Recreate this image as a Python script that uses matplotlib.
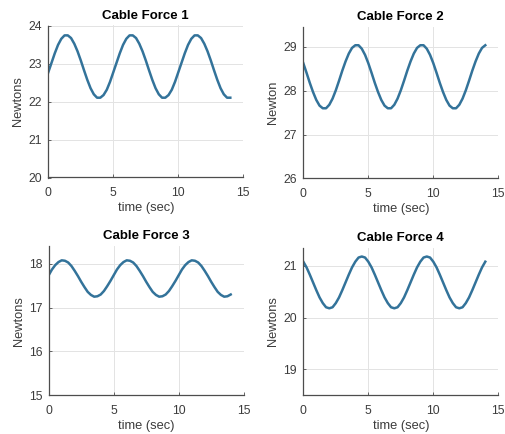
import numpy as np
import matplotlib
matplotlib.use("Agg")
import matplotlib.pyplot as plt

plt.rcParams['font.family'] = ['Liberation Sans', 'DejaVu Sans']

# time axis, 0..14 s every 0.25 s
time_sec = [i * 0.25 for i in range(57)]

# values (one 5 s period, 20 samples, repeated)
cycle_1 = [22.77, 23.02, 23.27, 23.49, 23.65, 23.74, 23.74, 23.67, 23.52, 23.32,
           23.08, 22.82, 22.57, 22.35, 22.19, 22.10, 22.10, 22.17, 22.31, 22.52]
cycle_2 = [28.63, 28.41, 28.18, 27.97, 27.79, 27.66, 27.60, 27.60, 27.68, 27.82,
           28.01, 28.23, 28.46, 28.67, 28.85, 28.98, 29.04, 29.04, 28.96, 28.82]
cycle_3 = [17.74, 17.87, 17.97, 18.04, 18.08, 18.07, 18.03, 17.95, 17.84, 17.72,
           17.59, 17.47, 17.36, 17.29, 17.25, 17.26, 17.30, 17.38, 17.49, 17.61]
cycle_4 = [21.08, 20.97, 20.83, 20.68, 20.53, 20.39, 20.28, 20.20, 20.18, 20.20,
           20.28, 20.39, 20.53, 20.68, 20.83, 20.97, 21.08, 21.16, 21.18, 21.16]

force_1 = (cycle_1 * 3)[:57]
force_2 = (cycle_2 * 3)[:57]
force_3 = (cycle_3 * 3)[:57]
force_4 = (cycle_4 * 3)[:57]

titles = ['Cable Force 1', 'Cable Force 2', 'Cable Force 3', 'Cable Force 4']
ylabels = ['Newtons', 'Newton', 'Newtons', 'Newtons']
ylims = [(20, 24), (26, 29.45), (15, 18.4), (18.5, 21.35)]
yticks = [[20, 21, 22, 23, 24], [26, 27, 28, 29], [15, 16, 17, 18], [19, 20, 21]]
xticks = [0, 5, 10, 15]

W, H = 505, 434
# axes boxes in pixels: left, right, top, bottom
boxes = [(48.3, 243.3, 25.5, 177.5),
         (303.3, 498.3, 27.3, 178.3),
         (48.7, 243.7, 246.3, 395.3),
         (303.3, 498.3, 247.7, 395.3)]

line_color = '#33739a'
text_color = '#3c3c3c'

fig = plt.figure(figsize=(W / 100, H / 100), dpi=100)

for k, series in enumerate([force_1, force_2, force_3, force_4]):
    l, r, t, b = boxes[k]
    ax = fig.add_axes([l / W, 1 - b / H, (r - l) / W, (b - t) / H])
    ax.plot(time_sec, series, color=line_color, linewidth=1.8)
    ax.set_xlim(0, 15)
    ax.set_ylim(*ylims[k])
    ax.set_xticks(xticks)
    ax.set_yticks(yticks[k])
    ax.grid(True, color='#e3e3e3', linewidth=0.7)
    ax.set_axisbelow(True)
    for side in ['top', 'right']:
        ax.spines[side].set_visible(False)
    for side in ['left', 'bottom']:
        ax.spines[side].set_color('#4d4d4d')
        ax.spines[side].set_linewidth(0.9)
    ax.tick_params(direction='in', length=2.5, width=0.6, colors='#4d4d4d',
                   labelsize=8.8, labelcolor=text_color)
    ax.tick_params(axis='x', pad=7)
    ax.tick_params(axis='y', pad=4.5)
    ax.set_title(titles[k], fontsize=9.5, fontweight='bold', pad=5)
    ax.set_xlabel('time (sec)', fontsize=9.3, color=text_color, labelpad=2)
    ax.set_ylabel(ylabels[k], fontsize=9.3, color=text_color, labelpad=3)

fig.savefig('out.png', dpi=100, facecolor='white')
